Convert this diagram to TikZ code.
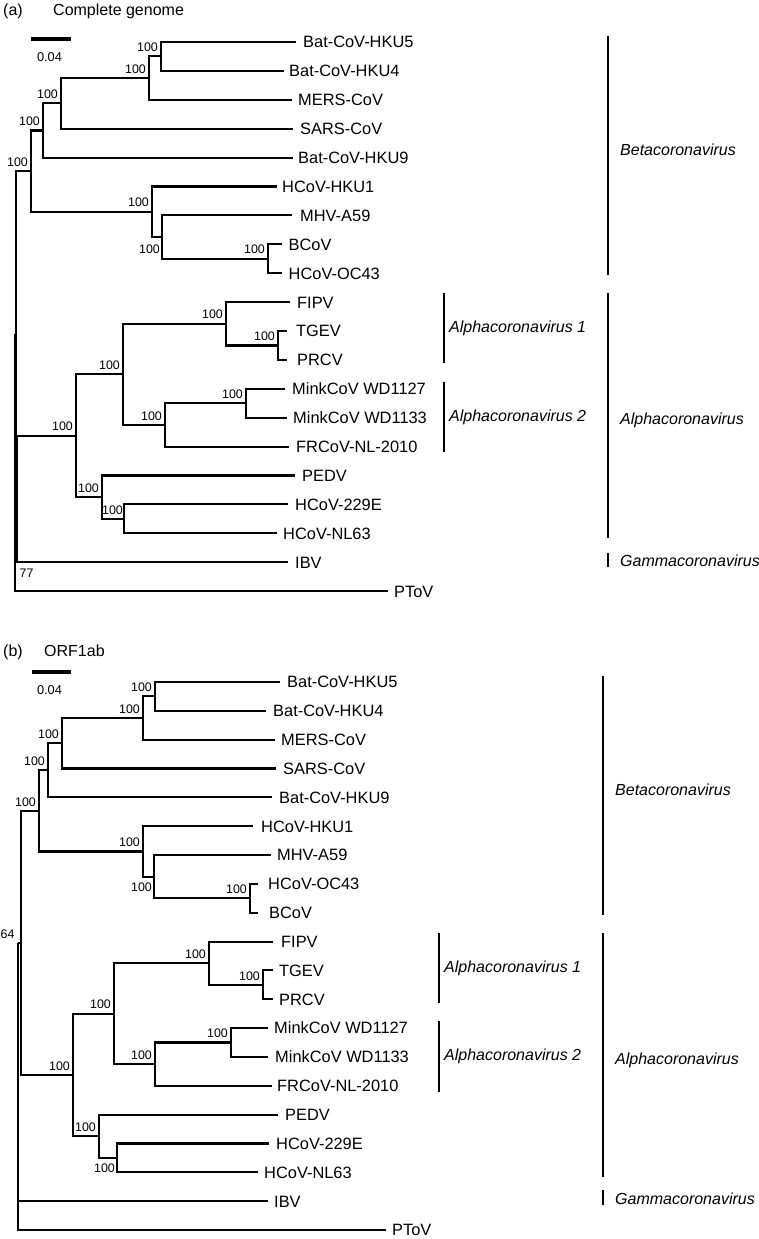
\documentclass[tikz,border=0pt]{standalone}
\usepackage{fontspec}
\setmainfont{Liberation Sans}
\newcommand\tipnode[5]{\coordinate (#1) at (#2,#4); \node[tiplab] (#1-l) at ({#3-1},#4) {#5};}
\begin{document}
\begin{tikzpicture}[x=1pt,y=-1pt,
  br/.style={line width=2.1pt},
  cladebar/.style={line width=2.1pt},
  scalebar/.style={line width=3.6pt},
  tiplab/.style={anchor=base west, inner sep=0pt, yshift=-5.9pt, font=\fontsize{16.4}{19}\selectfont},
  boot/.style={anchor=south east, inner sep=0pt, xshift=-3pt, yshift=4.5pt, font=\fontsize{12.4}{14}\selectfont},
  bootlow/.style={anchor=north east, inner sep=0pt, xshift=-2pt, yshift=-6pt, font=\fontsize{12.4}{14}\selectfont},
  clade/.style={anchor=base west, inner sep=0pt, font=\itshape\fontsize{16}{19}\selectfont},
  ptitle/.style={anchor=base west, inner sep=0pt, font=\fontsize{16}{19}\selectfont},
  scalelab/.style={inner sep=0pt, font=\fontsize{12.8}{15}\selectfont}]
\useasboundingbox (0,0) rectangle (758,1239);

% ================= Panel (a) =================
\node[ptitle] (atag) at (3,16) {(a)};
\node[ptitle] (atitle) at (53,16) {Complete genome};
\coordinate (asb1) at (31,39); \coordinate (asb2) at (71,39);
\draw[scalebar] (asb1) -- (asb2);
\node[scalelab] (asbl) at (49.5,57) {0.04};

\tipnode{aHKU5}{296}{304}{42.0}{Bat-CoV-HKU5}
\tipnode{aHKU4}{284}{290}{70.9}{Bat-CoV-HKU4}
\tipnode{aMERS}{292}{299}{99.8}{MERS-CoV}
\tipnode{aSARS}{293}{301}{128.7}{SARS-CoV}
\tipnode{aHKU9}{293}{299}{157.6}{Bat-CoV-HKU9}
\tipnode{aHKU1}{277}{283}{186.5}{HCoV-HKU1}
\tipnode{aMHV}{292}{301}{215.4}{MHV-A59}
\tipnode{aBCoV}{282}{289.5}{244.3}{BCoV}
\tipnode{aOC43}{282}{289.5}{273.2}{HCoV-OC43}
\tipnode{aFIPV}{290}{298}{302.1}{FIPV}
\tipnode{aTGEV}{287}{297}{331.0}{TGEV}
\tipnode{aPRCV}{287}{298}{359.9}{PRCV}
\tipnode{aMinkA}{285}{293}{388.8}{MinkCoV WD1127}
\tipnode{aMinkB}{287}{294}{417.7}{MinkCoV WD1133}
\tipnode{aFRCoV}{289}{297}{446.6}{FRCoV-NL-2010}
\tipnode{aPEDV}{295}{303}{475.5}{PEDV}
\tipnode{a229E}{288}{296}{504.4}{HCoV-229E}
\tipnode{aNL63}{277}{284}{533.3}{HCoV-NL63}
\tipnode{aIBV}{288}{296}{562.2}{IBV}
\tipnode{aPToV}{388}{395}{591.1}{PToV}

\coordinate (an1) at (161,56.45);
\coordinate (an2) at (149,78.1);
\coordinate (an3) at (61,103.4);
\coordinate (an4) at (43,130.5);
\coordinate (an5) at (268,258.75);
\coordinate (an6) at (162,237.1);
\coordinate (an7) at (152,211.8);
\coordinate (anB) at (31,171.15);
\coordinate (aa1) at (278,345.45);
\coordinate (aa2) at (226,323.8);
\coordinate (aa3) at (246,403.25);
\coordinate (aa4) at (165,424.9);
\coordinate (aa5) at (123,374.4);
\coordinate (aa6) at (124,518.85);
\coordinate (aa7) at (102,497.2);
\coordinate (anA) at (76,435.8);
\coordinate (aQ) at (17.3,499.0);
\coordinate (aP) at (15.6,335.1);
\coordinate (aR) at (15.3,463.1);

\draw[br] (an1) |- (aHKU5); \draw[br] (an1) |- (aHKU4);
\draw[br] (an2) |- (an1); \draw[br] (an2) |- (aMERS);
\draw[br] (an3) |- (an2); \draw[br] (an3) |- (aSARS);
\draw[br] (an4) |- (an3); \draw[br] (an4) |- (aHKU9);
\draw[br] (an5) |- (aBCoV); \draw[br] (an5) |- (aOC43);
\draw[br] (an6) |- (aMHV); \draw[br] (an6) |- (an5);
\draw[br] (an7) |- (aHKU1); \draw[br] (an7) |- (an6);
\draw[br] (anB) |- (an4); \draw[br] (anB) |- (an7);
\draw[br] (aa1) |- (aTGEV); \draw[br] (aa1) |- (aPRCV);
\draw[br] (aa2) |- (aFIPV); \draw[br] (aa2) |- (aa1);
\draw[br] (aa3) |- (aMinkA); \draw[br] (aa3) |- (aMinkB);
\draw[br] (aa4) |- (aa3); \draw[br] (aa4) |- (aFRCoV);
\draw[br] (aa5) |- (aa2); \draw[br] (aa5) |- (aa4);
\draw[br] (aa6) |- (a229E); \draw[br] (aa6) |- (aNL63);
\draw[br] (aa7) |- (aPEDV); \draw[br] (aa7) |- (aa6);
\draw[br] (anA) |- (aa5); \draw[br] (anA) |- (aa7);
\draw[br] (aQ) |- (anA); \draw[br] (aQ) |- (aIBV);
\draw[br] (aP) |- (anB); \draw[br] (aP) |- (aQ);
\draw[br] (aR) |- (aP); \draw[br] (aR) |- (aPToV);

\node[boot] (as1) at (an1) {100};
\node[boot] (as2) at (an2) {100};
\node[boot] (as3) at (an3) {100};
\node[boot] (as4) at (an4) {100};
\node[boot] (as5) at (an5) {100};
\node[bootlow, yshift=-1.5pt] (as6) at (an6) {100};
\node[boot] (as7) at (an7) {100};
\node[boot] (asB) at (anB) {100};
\node[boot] (asa1) at (aa1) {100};
\node[boot] (asa2) at (aa2) {100};
\node[boot] (asa3) at (aa3) {100};
\node[boot] (asa4) at (aa4) {100};
\node[boot] (asa5) at (aa5) {100};
\node[boot, xshift=2pt] (asa6) at (aa6) {100};
\node[boot] (asa7) at (aa7) {100};
\node[boot] (asA) at (anA) {100};
\node[anchor=west, inner sep=0pt, font=\fontsize{12.4}{14}\selectfont] (asQ) at (19.5,573) {77};

\coordinate (abeta1) at (608,36); \coordinate (abeta2) at (608,275);
\draw[cladebar] (abeta1) -- (abeta2);
\node[clade] (abetal) at (620,155) {Betacoronavirus};
\coordinate (aal11) at (444,293); \coordinate (aal12) at (444,363);
\draw[cladebar] (aal11) -- (aal12);
\node[clade] (aal1l) at (449,332.7) {Alphacoronavirus 1};
\coordinate (aal21) at (444,382); \coordinate (aal22) at (444,452);
\draw[cladebar] (aal21) -- (aal22);
\node[clade] (aal2l) at (449,421) {Alphacoronavirus 2};
\coordinate (aalp1) at (608,293); \coordinate (aalp2) at (608,538);
\draw[cladebar] (aalp1) -- (aalp2);
\node[clade] (aalpl) at (620,424) {Alphacoronavirus};
\coordinate (agam1) at (608,553); \coordinate (agam2) at (608,567);
\draw[cladebar] (agam1) -- (agam2);
\node[clade] (agaml) at (620,566) {Gammacoronavirus};

% ================= Panel (b) =================
\node[ptitle] (btag) at (3,656) {(b)};
\node[ptitle] (btitle) at (44,656) {ORF1ab};
\coordinate (bsb1) at (32,672); \coordinate (bsb2) at (71,672);
\draw[scalebar] (bsb1) -- (bsb2);
\node[scalelab] (bsbl) at (49.5,690) {0.04};

\tipnode{bHKU5}{280}{288}{682.0}{Bat-CoV-HKU5}
\tipnode{bHKU4}{266}{274}{710.84}{Bat-CoV-HKU4}
\tipnode{bMERS}{275}{282}{739.68}{MERS-CoV}
\tipnode{bSARS}{276}{284}{768.52}{SARS-CoV}
\tipnode{bHKU9}{272}{280}{797.36}{Bat-CoV-HKU9}
\tipnode{bHKU1}{253}{262}{826.2}{HCoV-HKU1}
\tipnode{bMHV}{271}{278}{855.04}{MHV-A59}
\tipnode{bOC43}{258}{269}{883.88}{HCoV-OC43}
\tipnode{bBCoV}{258}{270}{912.72}{BCoV}
\tipnode{bFIPV}{273}{282}{941.56}{FIPV}
\tipnode{bTGEV}{273}{280}{970.4}{TGEV}
\tipnode{bPRCV}{273}{280}{999.24}{PRCV}
\tipnode{bMinkA}{268}{275}{1028.08}{MinkCoV WD1127}
\tipnode{bMinkB}{268}{276}{1056.92}{MinkCoV WD1133}
\tipnode{bFRCoV}{272}{278}{1085.76}{FRCoV-NL-2010}
\tipnode{bPEDV}{278}{286}{1114.6}{PEDV}
\tipnode{b229E}{269}{277}{1143.44}{HCoV-229E}
\tipnode{bNL63}{258}{265}{1172.28}{HCoV-NL63}
\tipnode{bIBV}{268}{275}{1201.12}{IBV}
\tipnode{bPToV}{386}{393}{1229.96}{PToV}

\coordinate (bm1) at (155,696.42);
\coordinate (bm2) at (143,718.05);
\coordinate (bm3) at (62,743.29);
\coordinate (bm4) at (48,770.32);
\coordinate (bm5) at (250,898.3);
\coordinate (bm6) at (154,876.67);
\coordinate (bm7) at (143,851.44);
\coordinate (bmB) at (39,810.88);
\coordinate (bb1) at (263,984.82);
\coordinate (bb2) at (209,963.19);
\coordinate (bb3) at (231,1042.5);
\coordinate (bb4) at (155,1064.13);
\coordinate (bb5) at (114,1013.66);
\coordinate (bb6) at (117,1157.86);
\coordinate (bb7) at (99,1136.23);
\coordinate (bbA) at (73,1074.95);
\coordinate (bP) at (20.7,942.9);
\coordinate (bR) at (18.3,942.9);

\draw[br] (bm1) |- (bHKU5); \draw[br] (bm1) |- (bHKU4);
\draw[br] (bm2) |- (bm1); \draw[br] (bm2) |- (bMERS);
\draw[br] (bm3) |- (bm2); \draw[br] (bm3) |- (bSARS);
\draw[br] (bm4) |- (bm3); \draw[br] (bm4) |- (bHKU9);
\draw[br] (bm5) |- (bOC43); \draw[br] (bm5) |- (bBCoV);
\draw[br] (bm6) |- (bMHV); \draw[br] (bm6) |- (bm5);
\draw[br] (bm7) |- (bHKU1); \draw[br] (bm7) |- (bm6);
\draw[br] (bmB) |- (bm4); \draw[br] (bmB) |- (bm7);
\draw[br] (bb1) |- (bTGEV); \draw[br] (bb1) |- (bPRCV);
\draw[br] (bb2) |- (bFIPV); \draw[br] (bb2) |- (bb1);
\draw[br] (bb3) |- (bMinkA); \draw[br] (bb3) |- (bMinkB);
\draw[br] (bb4) |- (bb3); \draw[br] (bb4) |- (bFRCoV);
\draw[br] (bb5) |- (bb2); \draw[br] (bb5) |- (bb4);
\draw[br] (bb6) |- (b229E); \draw[br] (bb6) |- (bNL63);
\draw[br] (bb7) |- (bPEDV); \draw[br] (bb7) |- (bb6);
\draw[br] (bbA) |- (bb5); \draw[br] (bbA) |- (bb7);
\draw[br] (bP) |- (bmB); \draw[br] (bP) |- (bbA);
\draw[br] (bR) |- (bP); \draw[br] (bR) |- (bIBV); \draw[br] (bR) |- (bPToV);

\node[boot] (bs1) at (bm1) {100};
\node[boot] (bs2) at (bm2) {100};
\node[boot] (bs3) at (bm3) {100};
\node[boot] (bs4) at (bm4) {100};
\node[boot] (bs5) at (bm5) {100};
\node[bootlow] (bs6) at (bm6) {100};
\node[boot] (bs7) at (bm7) {100};
\node[boot] (bsB) at (bmB) {100};
\node[boot] (bsb1n) at (bb1) {100};
\node[boot] (bsb2n) at (bb2) {100};
\node[boot] (bsb3n) at (bb3) {100};
\node[boot] (bsb4n) at (bb4) {100};
\node[boot] (bsb5n) at (bb5) {100};
\node[bootlow] (bsb6n) at (bb6) {100};
\node[boot] (bsb7n) at (bb7) {100};
\node[boot] (bsA) at (bbA) {100};
\node[boot, xshift=-3pt] (bsP) at (bP) {64};

\coordinate (bbeta1) at (603,676); \coordinate (bbeta2) at (603,915);
\draw[cladebar] (bbeta1) -- (bbeta2);
\node[clade] (bbetal) at (615,795) {Betacoronavirus};
\coordinate (bal11) at (439,933); \coordinate (bal12) at (439,1003);
\draw[cladebar] (bal11) -- (bal12);
\node[clade] (bal1l) at (444,972.7) {Alphacoronavirus 1};
\coordinate (bal21) at (439,1021); \coordinate (bal22) at (439,1092);
\draw[cladebar] (bal21) -- (bal22);
\node[clade] (bal2l) at (444,1060.7) {Alphacoronavirus 2};
\coordinate (balp1) at (603,933); \coordinate (balp2) at (603,1177);
\draw[cladebar] (balp1) -- (balp2);
\node[clade] (balpl) at (615,1064) {Alphacoronavirus};
\coordinate (bgam1) at (603,1190); \coordinate (bgam2) at (603,1205);
\draw[cladebar] (bgam1) -- (bgam2);
\node[clade] (bgaml) at (615,1204) {Gammacoronavirus};
\end{tikzpicture}
\end{document}
